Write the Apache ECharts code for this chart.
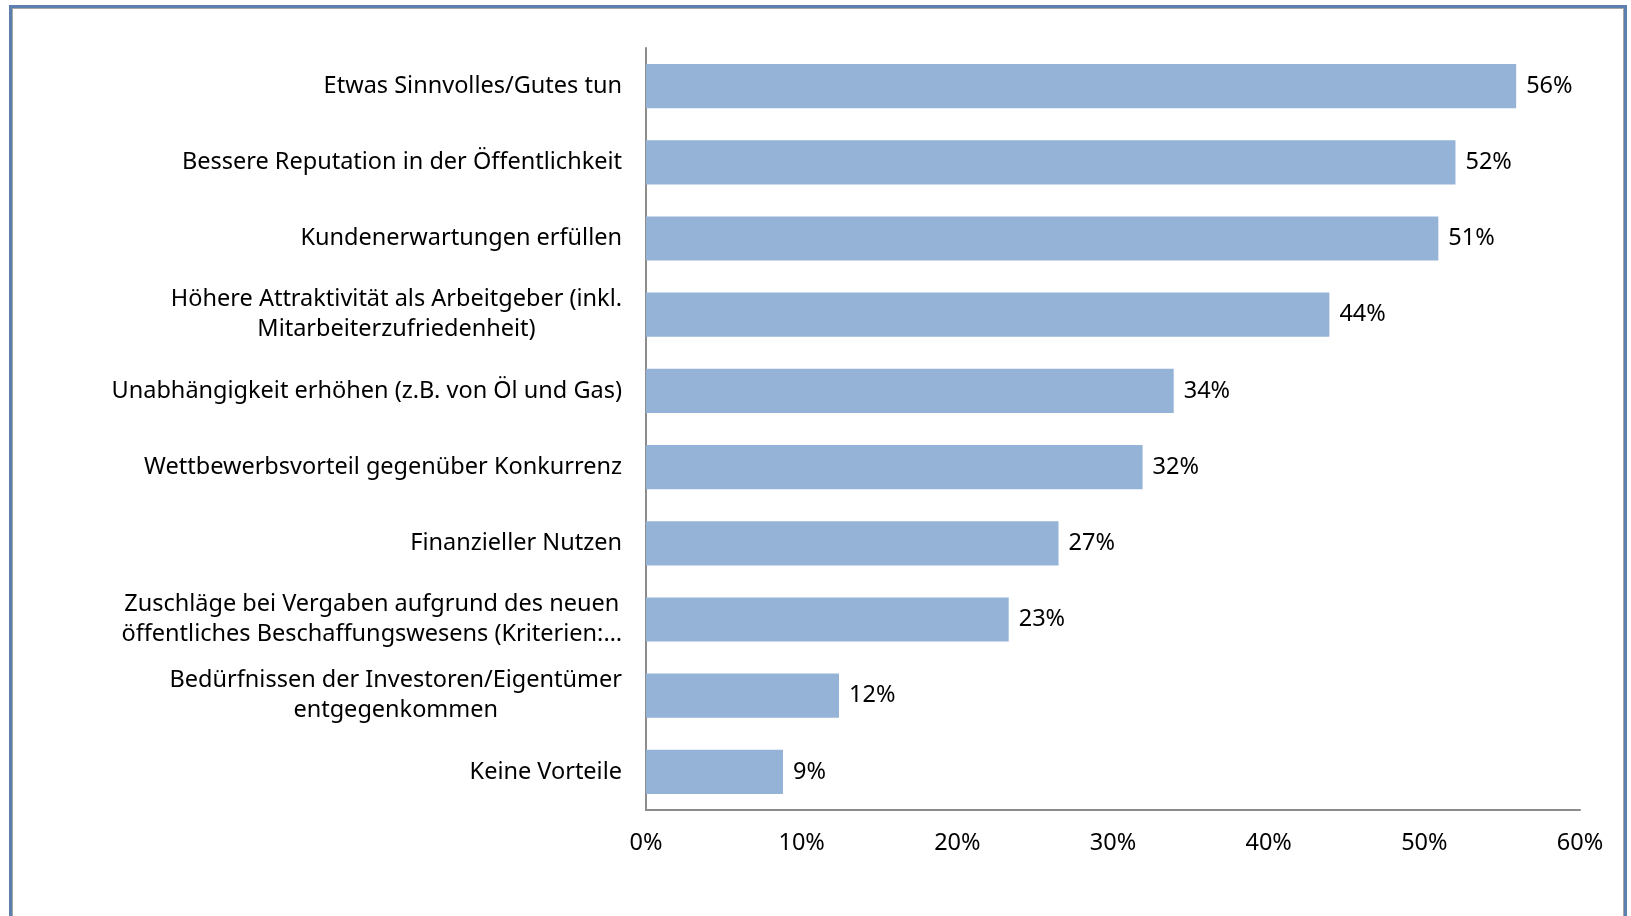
<!DOCTYPE html>
<html>
<head>
<meta charset="utf-8">
<title>Vorteile</title>
<script src="https://cdn.jsdelivr.net/npm/echarts@6/dist/echarts.min.js"></script>
<style>
  html, body {
    margin: 0;
    padding: 0;
    background: #ffffff;
  }
  .frame {
    position: absolute;
    left: 9px;
    top: 5px;
    width: 1612px;
    height: 920px;
    border: 3px solid #5b7fae;
    box-shadow: inset 0 0 0 1px #a6a6a6;
    background: #ffffff;
  }
  #chart {
    position: absolute;
    left: 0;
    top: 0;
    width: 1631px;
    height: 916px;
  }
</style>
</head>
<body>
<div class="frame"></div>
<div id="chart"></div>
<script>
// Kategorien (von oben nach unten)
const categories = [
  'Etwas Sinnvolles/Gutes tun',
  'Bessere Reputation in der Öffentlichkeit',
  'Kundenerwartungen erfüllen',
  'Höhere Attraktivität als Arbeitgeber (inkl.\nMitarbeiterzufriedenheit)',
  'Unabhängigkeit erhöhen (z.B. von Öl und Gas)',
  'Wettbewerbsvorteil gegenüber Konkurrenz',
  'Finanzieller Nutzen',
  'Zuschläge bei Vergaben aufgrund des neuen\nöffentliches Beschaffungswesens (Kriterien:…',
  'Bedürfnissen der Investoren/Eigentümer\nentgegenkommen',
  'Keine Vorteile'
]

const values = [55.9, 52.0, 50.9, 43.9, 33.9, 31.9, 26.5, 23.3, 12.4, 8.8]

// Achse
const axisMin = 0
const axisMax = 60
const axisStep = 10

const fontFamily = '"Noto Sans", Lato, sans-serif'
const fontSize = 23.5

const chart = echarts.init(document.getElementById('chart'))

chart.setOption({
  animation: false,
  grid: {
    left: 646,
    right: 51,
    top: 48,
    bottom: 106,
    containLabel: false
  },
  xAxis: {
    type: 'value',
    min: axisMin,
    max: axisMax,
    interval: axisStep,
    axisLine: {
      show: true,
      lineStyle: { color: '#8c8c8c', width: 2 }
    },
    axisTick: { show: false },
    splitLine: { show: false },
    axisLabel: {
      formatter: '{value}%',
      color: '#000000',
      fontSize: fontSize,
      fontFamily: fontFamily,
      margin: 21
    }
  },
  yAxis: {
    type: 'category',
    inverse: true,
    data: categories,
    axisLine: {
      show: true,
      lineStyle: { color: '#8c8c8c', width: 2 }
    },
    axisTick: { show: false },
    axisLabel: {
      color: '#000000',
      fontSize: fontSize,
      fontFamily: fontFamily,
      margin: 24,
      lineHeight: 30,
      // mehrzeilige Beschriftungen zentriert innerhalb des Blocks
      formatter: (value) => value.split('\n').map(line => '{c|' + line + '}').join('\n'),
      rich: {
        c: {
          align: 'center',
          color: '#000000',
          fontSize: fontSize,
          fontFamily: fontFamily,
          lineHeight: 30
        }
      }
    }
  },
  series: [{
    type: 'bar',
    data: values,
    barWidth: '58%',
    itemStyle: {
      color: '#95b3d7'
    },
    label: {
      show: true,
      position: 'right',
      distance: 10,
      formatter: (p) => Math.round(p.value) + '%',
      color: '#000000',
      fontSize: fontSize,
      fontFamily: fontFamily
    }
  }]
})
</script>
</body>
</html>
